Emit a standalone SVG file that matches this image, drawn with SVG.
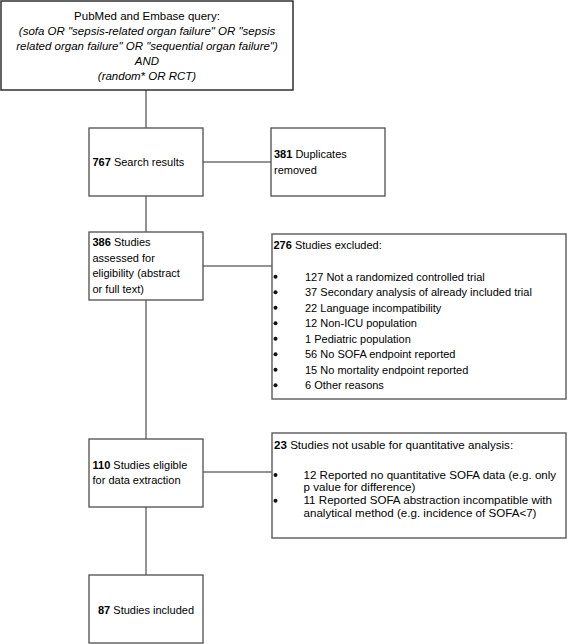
<svg xmlns="http://www.w3.org/2000/svg" width="568" height="644" viewBox="0 0 568 644">
<style>
.box{fill:#fff;stroke:#5a5a5a;stroke-width:1.4}
.top{fill:#fff;stroke:#222;stroke-width:1.4}
.conn{stroke:#707070;stroke-width:1.5;fill:none}
.dot{fill:#111}
text{font-family:"Liberation Sans",Arial,sans-serif;font-size:11px;fill:#000}
.q{font-size:11.5px}
.s{font-size:11.6px}
.i{font-style:italic}
.b{font-weight:bold}
.c{text-anchor:middle}
</style>
<rect width="568" height="644" fill="#fff"/>
<g id="connectors">
<line class="conn" x1="146" y1="90" x2="146" y2="575"/>
<line class="conn" x1="203" y1="162" x2="271" y2="162"/>
<line class="conn" x1="203" y1="266" x2="272" y2="266"/>
<line class="conn" x1="203" y1="472" x2="272" y2="472"/>
</g>
<g id="query">
<rect class="top" x="1" y="1" width="292" height="89"/>
<text class="q c" x="147" y="19.5">PubMed and Embase query:</text>
<text class="q c i" x="147" y="35">(sofa OR "sepsis-related organ failure" OR "sepsis</text>
<text class="q c i" x="147" y="50">related organ failure" OR "sequential organ failure")</text>
<text class="q c i" x="147" y="65">AND</text>
<text class="q c i" x="147" y="79.5">(random* OR RCT)</text>
</g>
<g id="search">
<rect class="box" x="89" y="128" width="114" height="68"/>
<text x="92.5" y="165.5"><tspan class="b">767</tspan> Search results</text>
</g>
<g id="duplicates">
<rect class="box" x="271" y="128" width="114" height="68"/>
<text x="274" y="158"><tspan class="b">381</tspan> Duplicates</text>
<text x="274" y="173.5">removed</text>
</g>
<g id="assessed">
<rect class="box" x="89" y="232" width="114" height="68"/>
<text x="92.5" y="246"><tspan class="b">386</tspan> Studies</text>
<text x="92.5" y="261.5">assessed for</text>
<text x="92.5" y="277">eligibility (abstract</text>
<text x="92.5" y="292.5">or full text)</text>
</g>
<g id="excluded">
<rect class="box" x="272" y="234" width="294" height="165"/>
<text x="273.5" y="249"><tspan class="b">276</tspan> Studies excluded:</text>
<g class="dot">
<circle cx="275.5" cy="276.7" r="2"/>
<circle cx="275.5" cy="292.2" r="2"/>
<circle cx="275.5" cy="307.7" r="2"/>
<circle cx="275.5" cy="323.2" r="2"/>
<circle cx="275.5" cy="338.7" r="2"/>
<circle cx="275.5" cy="354.2" r="2"/>
<circle cx="275.5" cy="369.7" r="2"/>
<circle cx="275.5" cy="385.2" r="2"/>
</g>
<text x="305" y="280.5">127 Not a randomized controlled trial</text>
<text x="305" y="296">37 Secondary analysis of already included trial</text>
<text x="305" y="311.5">22 Language incompatibility</text>
<text x="305" y="327">12 Non-ICU population</text>
<text x="305" y="342.5">1 Pediatric population</text>
<text x="305" y="358">56 No SOFA endpoint reported</text>
<text x="305" y="373.5">15 No mortality endpoint reported</text>
<text x="305" y="389">6 Other reasons</text>
</g>
<g id="eligible">
<rect class="box" x="89" y="439" width="114" height="68"/>
<text x="92.5" y="468.5"><tspan class="b">110</tspan> Studies eligible</text>
<text x="92.5" y="484">for data extraction</text>
</g>
<g id="notusable">
<rect class="box" x="272" y="433" width="294" height="105"/>
<text class="s" x="274" y="449"><tspan class="b">23</tspan> Studies not usable for quantitative analysis:</text>
<g class="dot">
<circle cx="275.5" cy="475" r="2"/>
<circle cx="275.5" cy="500.7" r="2"/>
</g>
<text class="s" x="303.5" y="478.5">12 Reported no quantitative SOFA data (e.g. only</text>
<text class="s" x="303.5" y="491.3">p value for difference)</text>
<text class="s" x="303.5" y="504.2">11 Reported SOFA abstraction incompatible with</text>
<text class="s" x="303.5" y="517">analytical method (e.g. incidence of SOFA&lt;7)</text>
</g>
<g id="included">
<rect class="box" x="89" y="575" width="114" height="68"/>
<text class="c" x="146" y="613.5"><tspan class="b">87</tspan> Studies included</text>
</g>
</svg>
